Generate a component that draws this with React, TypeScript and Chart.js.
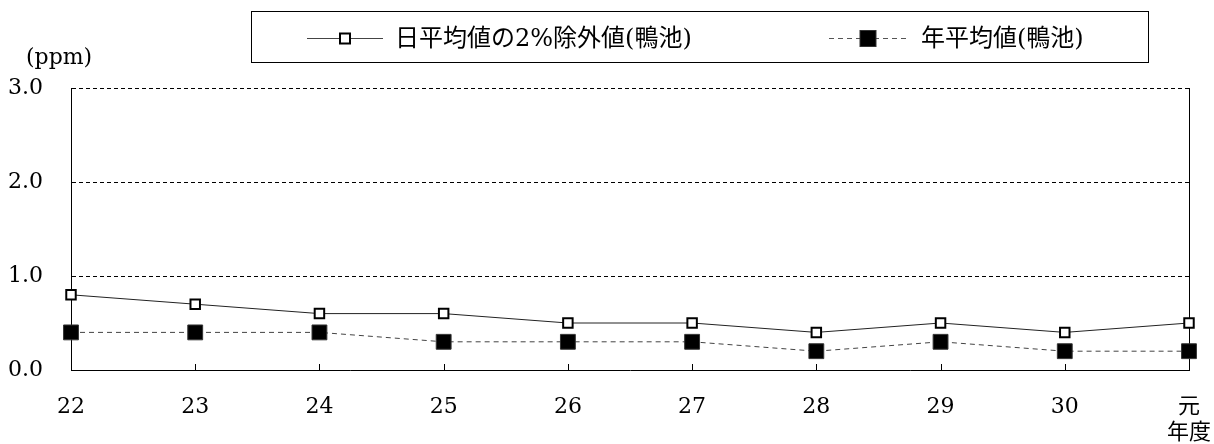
import React, { useEffect, useRef } from 'react';
import { Chart, registerables } from 'chart.js';

Chart.register(...registerables);

const categories: (string | string[])[] = ['22', '23', '24', '25', '26', '27', '28', '29', '30', ['元', '年度']];
const dailyTwoPercent = [0.8, 0.7, 0.6, 0.6, 0.5, 0.5, 0.4, 0.5, 0.4, 0.5];
const annualMean = [0.4, 0.4, 0.4, 0.3, 0.3, 0.3, 0.2, 0.3, 0.2, 0.2];
const yMin = 0;
const yMax = 3;
const yStep = 1;
const seriesNames = ['日平均値の2%除外値(鴨池)', '年平均値(鴨池)'];
const unitLabel = '(ppm)';

const FONT = '"DejaVu Serif", "Liberation Serif", "Noto Sans CJK JP", serif';

const framePlugin = {
  id: 'frameTicks',
  beforeDatasetsDraw(chart: any) {
    const { ctx, chartArea } = chart;
    const xs = chart.scales.x;
    ctx.save();
    ctx.strokeStyle = '#000';
    ctx.lineWidth = 1;
    ctx.beginPath();
    for (let i = 0; i < categories.length; i++) {
      const px = Math.round(xs.getPixelForTick(i)) + 0.5;
      ctx.moveTo(px, chartArea.bottom - 6);
      ctx.lineTo(px, chartArea.bottom);
    }
    const rx = Math.round(chartArea.right) + 0.5;
    ctx.moveTo(rx, chartArea.top);
    ctx.lineTo(rx, chartArea.bottom);
    ctx.stroke();
    ctx.restore();
  },
};

export default function App() {
  const ref = useRef<HTMLCanvasElement | null>(null);

  useEffect(() => {
    if (!ref.current) return;
    const chart = new Chart(ref.current, {
      type: 'line',
      data: {
        labels: categories as any,
        datasets: [
          {
            label: seriesNames[0],
            data: dailyTwoPercent,
            borderColor: '#222',
            borderWidth: 1,
            pointStyle: 'rect',
            pointRadius: 6.7,
            pointBorderWidth: 2,
            pointBackgroundColor: '#fff',
            pointBorderColor: '#000',
            tension: 0,
          },
          {
            label: seriesNames[1],
            data: annualMean,
            borderColor: '#444',
            borderWidth: 1,
            borderDash: [5, 4],
            pointStyle: 'rect',
            pointRadius: 10.5,
            pointBorderWidth: 1,
            pointBackgroundColor: '#000',
            pointBorderColor: '#333',
            tension: 0,
          },
        ],
      },
      options: {
        animation: false,
        responsive: false,
        devicePixelRatio: 1,
        events: [],
        layout: { padding: { top: 88, right: 25, left: 0, bottom: 0 } },
        plugins: {
          legend: { display: false },
          tooltip: { enabled: false },
        },
        scales: {
          x: {
            type: 'category',
            offset: false,
            afterFit: (s: any) => {
              s.height = 74;
              s.paddingLeft = 0;
              s.paddingRight = 0;
            },
            grid: { display: false, drawTicks: false },
            border: { display: true, color: '#000', width: 1 },
            ticks: {
              color: '#000',
              font: { family: FONT, size: 22, lineHeight: 1.2 },
              padding: 24,
              autoSkip: false,
              maxRotation: 0,
              minRotation: 0,
            },
          },
          y: {
            min: yMin,
            max: yMax,
            afterFit: (s: any) => {
              s.width = 71;
            },
            grid: {
              drawTicks: false,
              color: (c: any) => (c.tick && c.tick.value === 0 ? 'rgba(0,0,0,0)' : '#000'),
              lineWidth: 1,
            },
            border: { display: true, color: '#000', width: 1, dash: [4, 3] },
            ticks: {
              stepSize: yStep,
              color: '#000',
              padding: 28,
              font: { family: FONT, size: 22 },
              callback: (v: any) => Number(v).toFixed(1),
            },
          },
        },
      },
      plugins: [framePlugin],
    });
    return () => chart.destroy();
  }, []);

  const textStyle: React.CSSProperties = {
    position: 'absolute',
    fontFamily: FONT,
    fontSize: '24px',
    lineHeight: '24px',
    color: '#000',
    whiteSpace: 'nowrap',
  };

  return (
    <div style={{ position: 'absolute', left: 0, top: 0, width: 1214, height: 444, background: '#fff' }}>
      <canvas ref={ref} width={1214} height={444} style={{ display: 'block', width: 1214, height: 444 }} />
      <div style={{ ...textStyle, fontSize: '22px', left: 26, top: 45 }}>{unitLabel}</div>
      <div
        style={{
          position: 'absolute',
          left: 251,
          top: 11,
          width: 896,
          height: 50,
          border: '1px solid #000',
          boxSizing: 'content-box',
        }}
      >
        <svg style={{ position: 'absolute', left: 0, top: 0 }} width={896} height={50}>
          <line x1={55} y1={26.5} x2={131} y2={26.5} stroke="#444" strokeWidth={1} />
          <rect x={88} y={21.5} width={10} height={10} fill="#fff" stroke="#000" strokeWidth={2} />
          <line x1={577} y1={26.5} x2={657} y2={26.5} stroke="#555" strokeWidth={1.2} strokeDasharray="5 4" />
          <rect x={608} y={18.5} width={16} height={16} fill="#000" stroke="#333" strokeWidth={1} />
        </svg>
        <div style={{ ...textStyle, left: 143, top: 14 }}>{seriesNames[0]}</div>
        <div style={{ ...textStyle, left: 669, top: 14 }}>{seriesNames[1]}</div>
      </div>
    </div>
  );
}
